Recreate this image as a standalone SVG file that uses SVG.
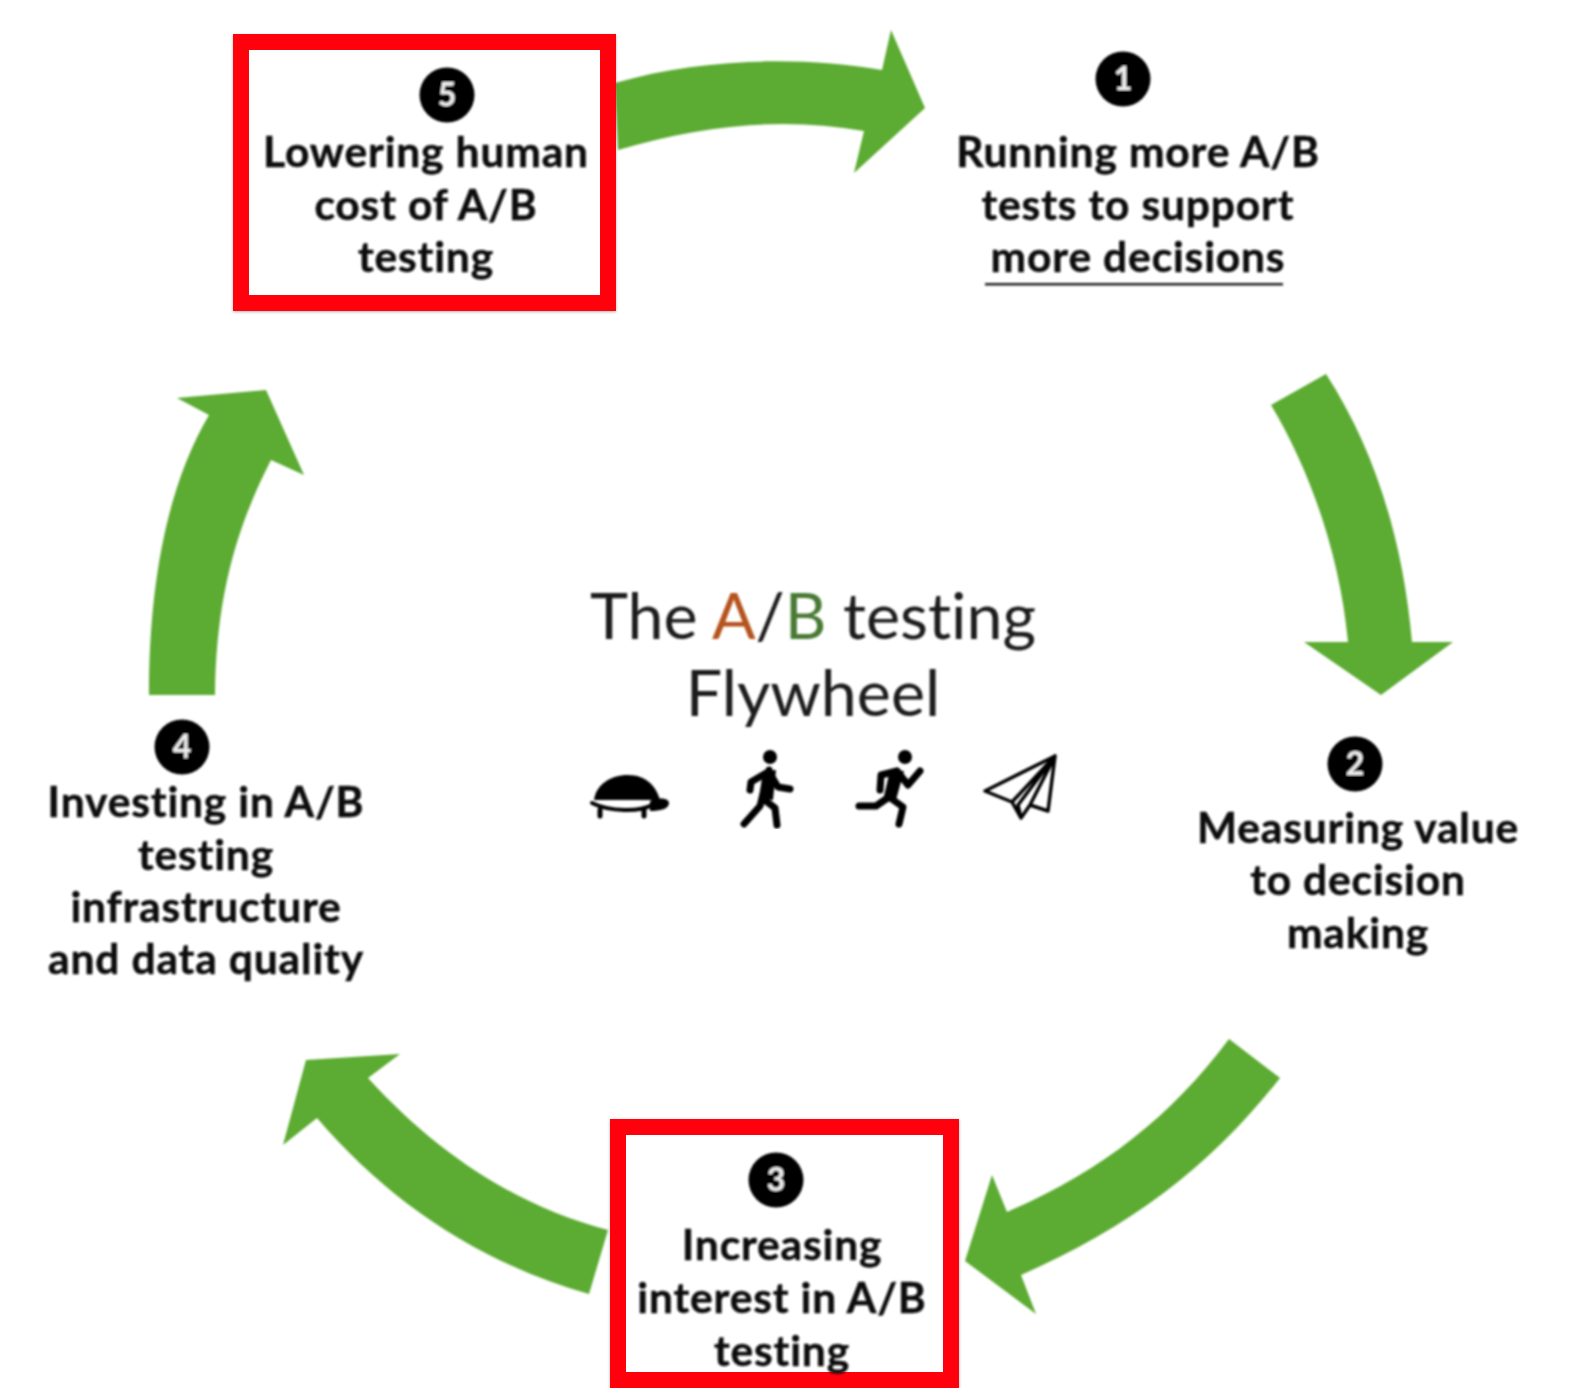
<svg xmlns="http://www.w3.org/2000/svg" width="1574" height="1388" viewBox="0 0 1574 1388">
<defs>
<style>
.t{font-family:"Lato","Open Sans","Liberation Sans",sans-serif;font-weight:700;font-size:42.500px;letter-spacing:.85px;font-variant-ligatures:none;fill:#111;text-anchor:middle;stroke:#111;stroke-width:.5px;transform:translate(0,1px)}
.n{font-family:"Lato","Liberation Sans",sans-serif;font-weight:700;font-size:32px;fill:#eee;text-anchor:middle}
.h{font-family:"Lato","Liberation Sans",sans-serif;font-size:64.500px;font-variant-ligatures:none;fill:#1c1c1c;text-anchor:middle}
.a{fill:#5cab33}
.box{fill:#fff;stroke:#ff0010;stroke-width:16}
.u{fill:#000}
.l{fill:none;stroke:#000;stroke-linecap:round;stroke-linejoin:round}
</style>
<filter id="b" x="-5%" y="-5%" width="110%" height="110%"><feGaussianBlur stdDeviation="1.100"/></filter>
<filter id="s" x="-5%" y="-5%" width="110%" height="110%"><feDropShadow dx="0" dy="1" stdDeviation="1.500" flood-color="#000" flood-opacity=".3"/></filter>
</defs>
<rect width="1574" height="1388" fill="#fff"/>
<g id="connectors" filter="url(#b)">
<path class="a" d="M615 83C700 58 800 56 882 70L891 30L925 108L854 173L864 131C780 116 700 126 618 150Z"/>
<path class="a" d="M1271 405L1326 374C1375 450 1403 540 1412 642H1453L1381 695L1304 642H1348C1340 555 1310 470 1271 405Z"/>
<path class="a" d="M1229 1039L1280 1078C1210 1167 1130 1227 1021 1275L1036 1314L965 1261L992 1175L1007 1212C1100 1172 1170 1118 1229 1039Z"/>
<path class="a" d="M608 1230L589 1294C480 1263 390 1203 317 1118L283 1145L306 1060L400 1054L368 1078C440 1157 520 1207 608 1230Z"/>
<path class="a" d="M149 695C149 590 165 490 209 415L177 398L266 390L304 475L271 460C235 530 216 600 215 695Z"/>
</g>
<g id="node-5">
<rect class="box" filter="url(#s)" x="241" y="42" width="367" height="261"/>
<g filter="url(#b)">
<circle class="u" cx="447" cy="95" r="27.500"/>
<text class="n" x="447" y="106">5</text>
<text class="t" x="426" y="166">Lowering human</text>
<text class="t" x="426" y="219">cost of A/B</text>
<text class="t" x="426" y="271">testing</text>
</g>
</g>
<g id="node-1" filter="url(#b)">
<circle class="u" cx="1123" cy="79" r="27.500"/>
<text class="n" x="1123" y="90">1</text>
<text class="t" x="1138" y="166">Running more A/B</text>
<text class="t" x="1138" y="219">tests to support</text>
<text class="t" x="1138" y="271">more decisions</text>
<rect x="985" y="283" width="298" height="2.500" fill="#222"/>
</g>
<g id="node-2" filter="url(#b)">
<circle class="u" cx="1355" cy="764" r="27.500"/>
<text class="n" x="1355" y="775">2</text>
<text class="t" x="1358" y="842">Measuring value</text>
<text class="t" x="1358" y="894">to decision</text>
<text class="t" x="1358" y="947">making</text>
</g>
<g id="node-3">
<rect class="box" filter="url(#s)" x="618" y="1127" width="333" height="253"/>
<g filter="url(#b)">
<circle class="u" cx="776" cy="1180" r="27.500"/>
<text class="n" x="776" y="1191">3</text>
<text class="t" x="782" y="1259">Increasing</text>
<text class="t" x="782" y="1312">interest in A/B</text>
<text class="t" x="782" y="1365">testing</text>
</g>
</g>
<g id="node-4" filter="url(#b)">
<circle class="u" cx="182" cy="747" r="27.500"/>
<text class="n" x="182" y="758">4</text>
<text class="t" x="206" y="816">Investing in A/B</text>
<text class="t" x="206" y="869">testing</text>
<text class="t" x="206" y="921">infrastructure</text>
<text class="t" x="206" y="973">and data quality</text>
</g>
<g id="title" filter="url(#b)">
<text class="h" x="813" y="639">The <tspan fill="#b5531f">A</tspan>/<tspan fill="#4a7a35">B</tspan> testing</text>
<text class="h" x="813" y="716">Flywheel</text>
</g>
<g id="icons" filter="url(#b)">
<path class="u" d="M594 800C596 785 610 775 628 775C646 775 656 786 660 800Z"/>
<path class="l" stroke-width="4" fill="none" d="M592 803C610 812 640 812 652 805"/>
<path class="u" d="M650 801C656 798 668 797 669 803C669 809 660 811 650 811Z"/>
<path class="l" stroke-width="5" d="M600 810V816M644 810V816"/>
<circle class="u" cx="770" cy="757" r="7"/>
<path class="l" stroke-width="7" d="M769 770L760 806L744 824M762 798L775 808L777 825M768 772L751 782L750 790M769 772L778 787L790 789"/>
<path class="u" d="M763 771L776 770L773 800L759 798Z"/>
<circle class="u" cx="905" cy="757" r="7"/>
<path class="l" stroke-width="7" d="M897 771L889 797L876 806H859M889 797L903 807L899 824M897 771L881 775L880 790M897 771L908 785L920 771"/>
<path class="u" d="M890 770L904 771L896 800L884 796Z"/>
<path class="l" stroke-width="3.500" d="M1055 756L985 791L1012 802L1021 818L1030 805L1048 811ZM1055 756L1012 802M1055 756L1018 805L1021 818M1055 756L1030 805"/>
</g>
</svg>
